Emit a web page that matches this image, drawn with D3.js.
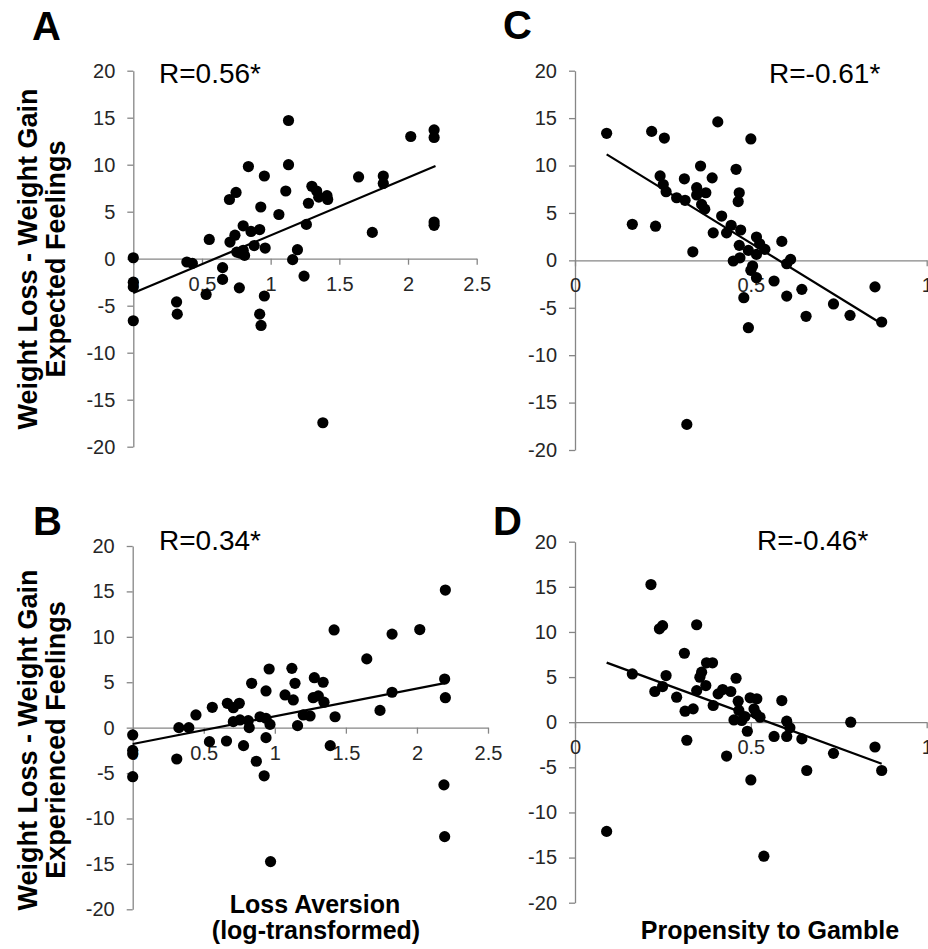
<!DOCTYPE html>
<html>
<head>
<meta charset="utf-8">
<script src="https://cdn.jsdelivr.net/npm/d3@7"></script>
<style>
    body { margin: 0; background: #fff; }
    svg { display: block; font-family: "Liberation Sans", Arial, sans-serif; }
    .axis path, .axis line { stroke: #868686; stroke-width: 1.3px; }
    .axis text { fill: #262626; font-size: 20px; font-family: "Liberation Sans", Arial, sans-serif; }
</style>
</head>
<body>
<svg id="chart" width="928" height="949"></svg>
<script>
// loss aversion (log) vs expected feelings
var panelA = [[0,0.1],[0,-2.5],[0,-3.0],[0,-6.6],[0.315,-4.6],[0.32,-5.9],[0.39,-0.35],[0.43,-0.5],[0.53,-3.8],
    [0.553,2.05],[0.65,-2.2],[0.65,-0.95],[0.70,6.3],[0.748,7.05],[0.704,1.77],[0.74,2.5],[0.753,0.7],[0.772,-3.1],
    [0.80,3.5],[0.81,0.35],[0.80,0.9],[0.777,0.6],[0.838,9.8],[0.857,2.9],[0.88,1.4],[0.92,3.1],[0.928,5.5],
    [0.954,8.8],[0.96,1.13],[0.92,-5.9],[0.93,-7.1],[0.954,-3.97],[1.06,4.7],[1.11,7.2],[1.13,14.7],[1.13,10.0],
    [1.16,-0.1],[1.195,0.96],[1.243,-1.85],[1.26,3.65],[1.275,5.9],[1.30,7.7],[1.335,7.2],[1.35,6.55],[1.41,6.7],
    [1.415,6.3],[1.38,-17.45],[1.64,8.7],[1.74,2.8],[1.82,8.8],[1.82,8.0],[2.02,13.0],[2.19,13.7],[2.19,12.9],
    [2.19,3.9],[2.19,3.55]];

// loss aversion (log) vs experienced feelings
var panelB = [[0,-0.8],[0,-2.5],[0,-2.9],[0,-5.4],[0.31,-3.45],[0.325,0],[0.395,0],[0.445,1.4],[0.54,-1.54],
    [0.56,2.24],[0.666,2.68],[0.66,-1.47],[0.708,0.66],[0.708,2.2],[0.75,2.68],[0.755,0.85],[0.78,-1.98],
    [0.813,0.77],[0.82,0],[0.837,4.88],[0.87,-3.7],[0.896,1.2],[0.925,-5.3],[0.938,-1.1],[0.938,4.04],[0.938,1.02],
    [0.96,6.46],[0.966,0.36],[0.97,-14.75],[1.072,3.6],[1.12,6.53],[1.13,3.05],[1.142,4.88],[1.16,0.22],[1.2,1.4],
    [1.248,1.29],[1.278,5.5],[1.27,3.3],[1.306,3.5],[1.34,5.0],[1.346,2.8],[1.39,-1.98],[1.417,10.76],[1.424,1.2],
    [1.647,7.57],[1.74,1.9],[1.825,10.3],[1.825,3.9],[2.02,10.8],[2.2,15.15],[2.195,5.35],[2.2,3.3],[2.19,-6.3],
    [2.195,-12.0]];

// propensity to gamble vs expected feelings
var panelC = [[0.09,13.4],[0.163,3.8],[0.218,13.6],[0.229,3.6],[0.254,12.9],[0.242,8.9],[0.251,8.0],[0.259,7.24],
    [0.289,6.6],[0.313,6.33],[0.311,8.6],[0.335,0.9],[0.346,7.66],[0.346,6.9],[0.357,9.95],[0.36,5.9],[0.372,7.13],
    [0.369,5.4],[0.39,8.7],[0.393,2.9],[0.406,14.6],[0.417,4.67],[0.431,2.9],[0.444,3.7],[0.458,9.6],[0.467,7.13],
    [0.464,6.2],[0.471,3.2],[0.467,1.58],[0.45,-0.07],[0.469,0.27],[0.493,1.05],[0.50,12.8],[0.516,0.63],
    [0.505,-0.6],[0.50,-1.05],[0.516,2.46],[0.525,1.75],[0.54,1.16],[0.516,-1.83],[0.48,-3.94],[0.493,-7.1],
    [0.566,-2.18],[0.588,2.0],[0.602,-0.36],[0.613,0.1],[0.602,-3.77],[0.645,-3.06],[0.657,-5.9],[0.735,-4.6],
    [0.782,-5.8],[0.853,-2.8],[0.872,-6.5],[0.318,-17.3]];

// propensity to gamble vs experienced feelings
var panelD = [[0.09,-12.1],[0.163,5.35],[0.216,15.25],[0.227,3.4],[0.24,10.35],[0.249,10.7],[0.249,3.95],
    [0.259,5.17],[0.289,2.77],[0.311,7.64],[0.313,1.22],[0.318,-2.0],[0.336,1.48],[0.346,10.8],[0.346,3.5],
    [0.355,4.98],[0.36,5.54],[0.372,4.06],[0.374,6.58],[0.391,6.58],[0.393,1.85],[0.407,3.14],[0.42,3.62],
    [0.431,-3.75],[0.443,3.4],[0.452,0.25],[0.458,4.87],[0.464,2.33],[0.466,1.3],[0.474,0.19],[0.483,0.63],
    [0.49,-1.0],[0.498,2.7],[0.50,-6.4],[0.509,1.48],[0.515,0.93],[0.517,2.6],[0.526,0.55],[0.537,-14.85],
    [0.566,-1.58],[0.588,2.4],[0.602,0.11],[0.602,-1.58],[0.611,-0.62],[0.645,-1.85],[0.659,-5.35],[0.735,-3.45],
    [0.784,0],[0.853,-2.75],[0.872,-5.35]];

// fitted lines, end points
var trendA = [[0, -3.65], [2.2, 9.85]];
var trendB = [[0, -1.8], [2.195, 4.9]];
var trendC = [[0.09, 11.18], [0.872, -6.68]];
var trendD = [[0.09, 6.6], [0.872, -4.6]];

var rLabels = ['R=0.56*', 'R=0.34*', 'R=-0.61*', 'R=-0.46*'];
var panelLetters = ['A', 'B', 'C', 'D'];
var lossTicks = [0, 0.5, 1, 1.5, 2, 2.5];
var gambleTicks = [0, 0.5, 1];
var feelingTicks = [-20, -15, -10, -5, 0, 5, 10, 15, 20];

var svg = d3.select('#chart');

var panels = [
    { data: panelA, trend: trendA, r: rLabels[0], letter: panelLetters[0], xDomain: [0, 2.5], xTicks: lossTicks,
      xRange: [133.3, 476.7], yRange: [446.7, 70.7], rPos: [159, 83], letterPos: [32, 40] },
    { data: panelB, trend: trendB, r: rLabels[1], letter: panelLetters[1], xDomain: [0, 2.5], xTicks: lossTicks,
      xRange: [132.7, 488], yRange: [909.3, 546], rPos: [159, 550], letterPos: [33, 535] },
    { data: panelC, trend: trendC, r: rLabels[2], letter: panelLetters[2], xDomain: [0, 1], xTicks: gambleTicks,
      xRange: [575, 926.7], yRange: [450, 70.7], rPos: [769, 83], letterPos: [503, 39] },
    { data: panelD, trend: trendD, r: rLabels[3], letter: panelLetters[3], xDomain: [0, 1], xTicks: gambleTicks,
      xRange: [575, 926.7], yRange: [902.7, 541.7], rPos: [757, 550], letterPos: [493, 535] }
];

panels.forEach(function(p) {
    var x = d3.scaleLinear().domain(p.xDomain).range(p.xRange),
        y = d3.scaleLinear().domain([-20, 20]).range(p.yRange);

    var g = svg.append('g');

    // plain hyphen minus like the original, not the unicode one
    g.append('g')
        .attr('class', 'axis')
        .attr('transform', 'translate(' + x(0) + ',0)')
        .call(d3.axisLeft(y).tickValues(feelingTicks).tickSize(6).tickSizeOuter(0).tickPadding(12)
            .tickFormat(function(d) { return String(d); }));

    g.append('g')
        .attr('class', 'axis')
        .attr('transform', 'translate(0,' + y(0) + ')')
        .call(d3.axisBottom(x).tickValues(p.xTicks).tickSize(6).tickSizeOuter(0).tickPadding(11.8)
            .tickFormat(function(d) { return String(d); }));

    g.selectAll('circle.dot')
        .data(p.data)
        .enter()
        .append('circle')
        .attr('class', 'dot')
        .attr('cx', function(d) { return x(d[0]); })
        .attr('cy', function(d) { return y(d[1]); })
        .attr('r', 5.6)
        .attr('fill', '#000');

    g.append('path')
        .datum(p.trend)
        .attr('d', d3.line().x(function(d) { return x(d[0]); }).y(function(d) { return y(d[1]); }))
        .attr('stroke', '#000')
        .attr('stroke-width', 2.2)
        .attr('fill', 'none');

    g.append('text')
        .attr('x', p.rPos[0])
        .attr('y', p.rPos[1])
        .attr('font-size', 28)
        .attr('fill', '#000')
        .text(p.r);

    g.append('text')
        .attr('x', p.letterPos[0])
        .attr('y', p.letterPos[1])
        .attr('font-size', 40)
        .attr('font-weight', 'bold')
        .attr('fill', '#000')
        .text(p.letter);
});

// y titles
[[259, 'Expected Feelings'], [740, 'Experienced Feelings']].forEach(function(t) {
    svg.append('text')
        .attr('transform', 'translate(37,' + t[0] + ') rotate(-90)')
        .attr('text-anchor', 'middle')
        .attr('font-size', 27)
        .attr('font-weight', 'bold')
        .text('Weight Loss - Weight Gain');
    svg.append('text')
        .attr('transform', 'translate(65,' + t[0] + ') rotate(-90)')
        .attr('text-anchor', 'middle')
        .attr('font-size', 27)
        .attr('font-weight', 'bold')
        .text(t[1]);
});

// x titles
svg.append('text').attr('x', 315).attr('y', 913).attr('text-anchor', 'middle')
    .attr('font-size', 25).attr('font-weight', 'bold').text('Loss Aversion');
svg.append('text').attr('x', 316).attr('y', 939).attr('text-anchor', 'middle')
    .attr('font-size', 25).attr('font-weight', 'bold').text('(log-transformed)');
svg.append('text').attr('x', 770).attr('y', 939).attr('text-anchor', 'middle')
    .attr('font-size', 25).attr('font-weight', 'bold').text('Propensity to Gamble');
</script>
</body>
</html>
